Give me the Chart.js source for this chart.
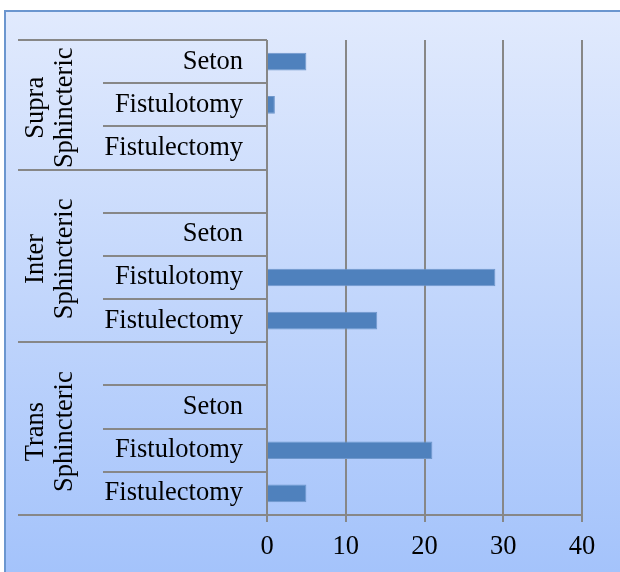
<!DOCTYPE html>
<html>
<head>
<meta charset="utf-8">
<script src="https://cdn.jsdelivr.net/npm/chart.js@4.4.1/dist/chart.umd.min.js"></script>
<style>
  html, body { margin: 0; padding: 0; background: #fff; }
  #wrap { position: relative; width: 620px; height: 572px; }
</style>
</head>
<body>
<div id="wrap"><canvas id="barChart"></canvas></div>
<script>
// rows top to bottom, '' = empty spacer row
var rowLabels = ['Seton', 'Fistulotomy', 'Fistulectomy', '', 'Seton', 'Fistulotomy', 'Fistulectomy', '', 'Seton', 'Fistulotomy', 'Fistulectomy'];
var counts = [5, 1, 0, null, 0, 29, 14, null, 0, 21, 5];
var groupNames = [['Supra', 'Sphincteric'], ['Inter', 'Sphincteric'], ['Trans', 'Sphincteric']];
var groupSizes = [3, 4, 4];
var xTicks = [0, 10, 20, 30, 40];

var lineGrey = '#878787';
var serif = '"Liberation Serif", "Times New Roman", serif';
var fontSize = 26.5;

// background gradient + frame
var bgPlugin = {
    id: 'bg',
    beforeDraw: function (chart) {
        var c = chart.ctx;
        c.save();
        c.fillStyle = '#ffffff';
        c.fillRect(0, 0, chart.width, chart.height);
        var g = c.createLinearGradient(0, 11, 0, chart.height);
        g.addColorStop(0, '#e1eafd');
        g.addColorStop(1, '#a4c3fb');
        c.fillStyle = g;
        c.fillRect(5, 11, chart.width - 5, chart.height - 11);
        c.strokeStyle = '#6b96cf';
        c.lineWidth = 2;
        c.beginPath();
        c.moveTo(5, chart.height);
        c.lineTo(5, 11);
        c.lineTo(chart.width, 11);
        c.stroke();
        c.restore();
    }
};

// separator lines and group labels on the category axis
var groupAxisPlugin = {
    id: 'groupAxis',
    afterDraw: function (chart) {
        var c = chart.ctx;
        var y = chart.scales.y;
        var area = chart.chartArea;
        var n = rowLabels.length;
        var h = (y.getPixelForValue(n - 1) - y.getPixelForValue(0)) / (n - 1);
        var edgeOf = function (b) { return y.getPixelForValue(0) - h / 2 + b * h; };
        var groupEdges = [0];
        var acc = 0;
        groupSizes.forEach(function (s) { acc += s; groupEdges.push(acc); });

        c.save();
        c.strokeStyle = lineGrey;
        c.lineWidth = 2;
        for (var b = 0; b <= n; b++) {
            var py = Math.round(edgeOf(b));
            var isGroup = groupEdges.indexOf(b) >= 0;
            c.beginPath();
            c.moveTo(isGroup ? 18 : 103, py);
            c.lineTo(area.left, py);
            c.stroke();
        }
        // axis line and its little extension below
        c.beginPath();
        c.moveTo(area.left, area.top);
        c.lineTo(area.left, area.bottom + 7);
        c.stroke();

        c.fillStyle = '#000';
        c.font = fontSize + 'px ' + serif;
        c.textAlign = 'center';
        c.textBaseline = 'middle';
        for (var gi = 0; gi < groupNames.length; gi++) {
            var cy = (edgeOf(groupEdges[gi]) + edgeOf(groupEdges[gi + 1])) / 2 + 3;
            c.save();
            c.translate(36, cy);
            c.rotate(-Math.PI / 2);
            c.fillText(groupNames[gi][0], 0, 0);
            c.fillText(groupNames[gi][1], 0, 29);
            c.restore();
        }
        c.restore();
    }
};

var ctx = document.getElementById('barChart').getContext('2d');
var barChart = new Chart(ctx, {
    type: 'bar',
    data: {
        labels: rowLabels,
        datasets: [{
            data: counts,
            backgroundColor: '#4f81bd',
            borderColor: '#6f97cc',
            borderWidth: function (c) { return c.raw ? 1 : 0; },
            borderSkipped: 'start',
            categoryPercentage: 1,
            barPercentage: 0.41
        }]
    },
    options: {
        indexAxis: 'y',
        responsive: true,
        maintainAspectRatio: false,
        animation: false,
        layout: { padding: { left: 18, top: 40, right: 38, bottom: 0 } },
        plugins: { legend: { display: false }, tooltip: { enabled: false } },
        scales: {
            x: {
                min: 0,
                max: 40,
                afterBuildTicks: function (s) { s.ticks = xTicks.map(function (v) { return { value: v }; }); },
                afterFit: function (s) { s.height = 57; },
                grid: { color: lineGrey, lineWidth: 2, drawTicks: true, tickLength: 7, tickColor: lineGrey },
                border: { display: true, color: lineGrey, width: 2 },
                ticks: { color: '#000', font: { family: serif, size: fontSize }, padding: 9 }
            },
            y: {
                afterFit: function (s) { s.width = 249; },
                grid: { display: false, drawTicks: false },
                border: { display: false },
                ticks: { color: '#000', font: { family: serif, size: fontSize }, padding: 24, autoSkip: false }
            }
        }
    },
    plugins: [bgPlugin, groupAxisPlugin]
});
</script>
</body>
</html>
